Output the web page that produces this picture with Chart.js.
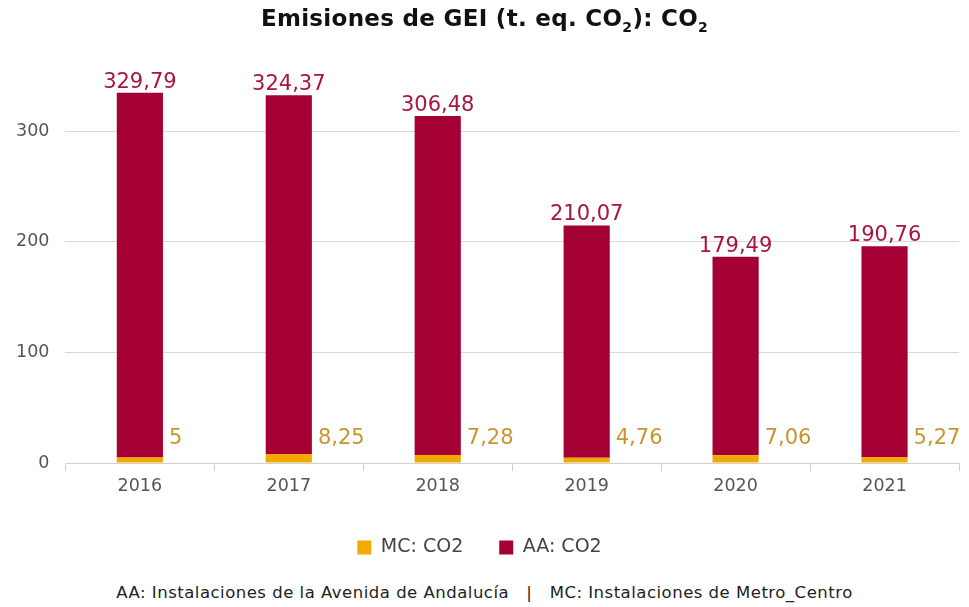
<!DOCTYPE html>
<html>
<head>
<meta charset="utf-8">
<script src="https://cdn.jsdelivr.net/npm/chart.js@4.4.0/dist/chart.umd.min.js"></script>
<style>
  body { margin: 0; background: #fff; font-family: "DejaVu Sans", sans-serif; }
  #wrap { position: relative; width: 969px; height: 607px; }
  #titulo { position: absolute; top: 5px; left: 0; width: 969px; text-align: center; font-weight: bold; font-size: 23px; letter-spacing: 0.3px; color: #111; }
  #titulo sub { font-size: 14px; }
  #pie { position: absolute; top: 583px; left: 0; width: 969px; text-align: center; font-size: 16.5px; letter-spacing: 0.5px; color: #222; white-space: pre; }
  canvas { position: absolute; top: 0; left: 0; }
</style>
</head>
<body>
<div id="wrap">
  <canvas id="grafico" width="969" height="567"></canvas>
  <div id="titulo">Emisiones de GEI (t. eq. CO<sub>2</sub>): CO<sub>2</sub></div>
  <div id="pie">AA: Instalaciones de la Avenida de Andalucía   |   MC: Instalaciones de Metro_Centro</div>
</div>
<script>
const anios = ["2016", "2017", "2018", "2019", "2020", "2021"];
const mcCO2 = [5, 8.25, 7.28, 4.76, 7.06, 5.27];
const aaCO2 = [329.79, 324.37, 306.48, 210.07, 179.49, 190.76];
const ticksY = [0, 100, 200, 300];

function fmt(v) {
  return String(v).replace(".", ",");
}

// etiquetas de valores (no hay plugin datalabels)
const etiquetas = {
  id: "etiquetas",
  afterDatasetsDraw(chart) {
    const c = chart.ctx;
    c.save();
    c.font = "21px 'DejaVu Sans', sans-serif";
    c.textBaseline = "alphabetic";
    chart.getDatasetMeta(1).data.forEach((bar, i) => {
      c.fillStyle = "#A8163F";
      c.textAlign = "center";
      c.fillText(fmt(aaCO2[i]), bar.x, bar.y - 5);
    });
    chart.getDatasetMeta(0).data.forEach((bar, i) => {
      c.fillStyle = "#C8952C";
      c.textAlign = "left";
      c.fillText(fmt(mcCO2[i]), bar.x + bar.width / 2 + 6, chart.scales.y.getPixelForValue(17.5));
    });
    c.restore();
  }
};

new Chart(document.getElementById("grafico"), {
  type: "bar",
  data: {
    labels: anios,
    datasets: [
      { label: "MC: CO2", data: mcCO2, backgroundColor: "#F2A900", barPercentage: 0.31, categoryPercentage: 1 },
      { label: "AA: CO2", data: aaCO2, backgroundColor: "#A50034", barPercentage: 0.31, categoryPercentage: 1 }
    ]
  },
  options: {
    responsive: false,
    animation: false,
    layout: { padding: { top: 76, right: 10, left: 0, bottom: 0 } },
    plugins: {
      legend: {
        position: "bottom",
        labels: { boxWidth: 14, boxHeight: 14, padding: 36, color: "#444", font: { size: 19, family: "DejaVu Sans" } }
      },
      tooltip: { enabled: false }
    },
    scales: {
      x: {
        stacked: true,
        grid: { display: true, drawOnChartArea: false, offset: true, tickLength: 8, color: "#d0d0d0" },
        border: { color: "#d0d0d0" },
        ticks: { color: "#555", font: { size: 17.5, family: "DejaVu Sans" }, padding: 5 }
      },
      y: {
        stacked: true,
        min: 0,
        max: 350,
        afterBuildTicks: axis => { axis.ticks = ticksY.map(v => ({ value: v })); },
        grid: { color: "#d9d9d9", drawTicks: false },
        border: { display: false },
        ticks: { color: "#555", font: { size: 17.5, family: "DejaVu Sans" }, padding: 16 }
      }
    }
  },
  plugins: [etiquetas]
});
</script>
</body>
</html>
